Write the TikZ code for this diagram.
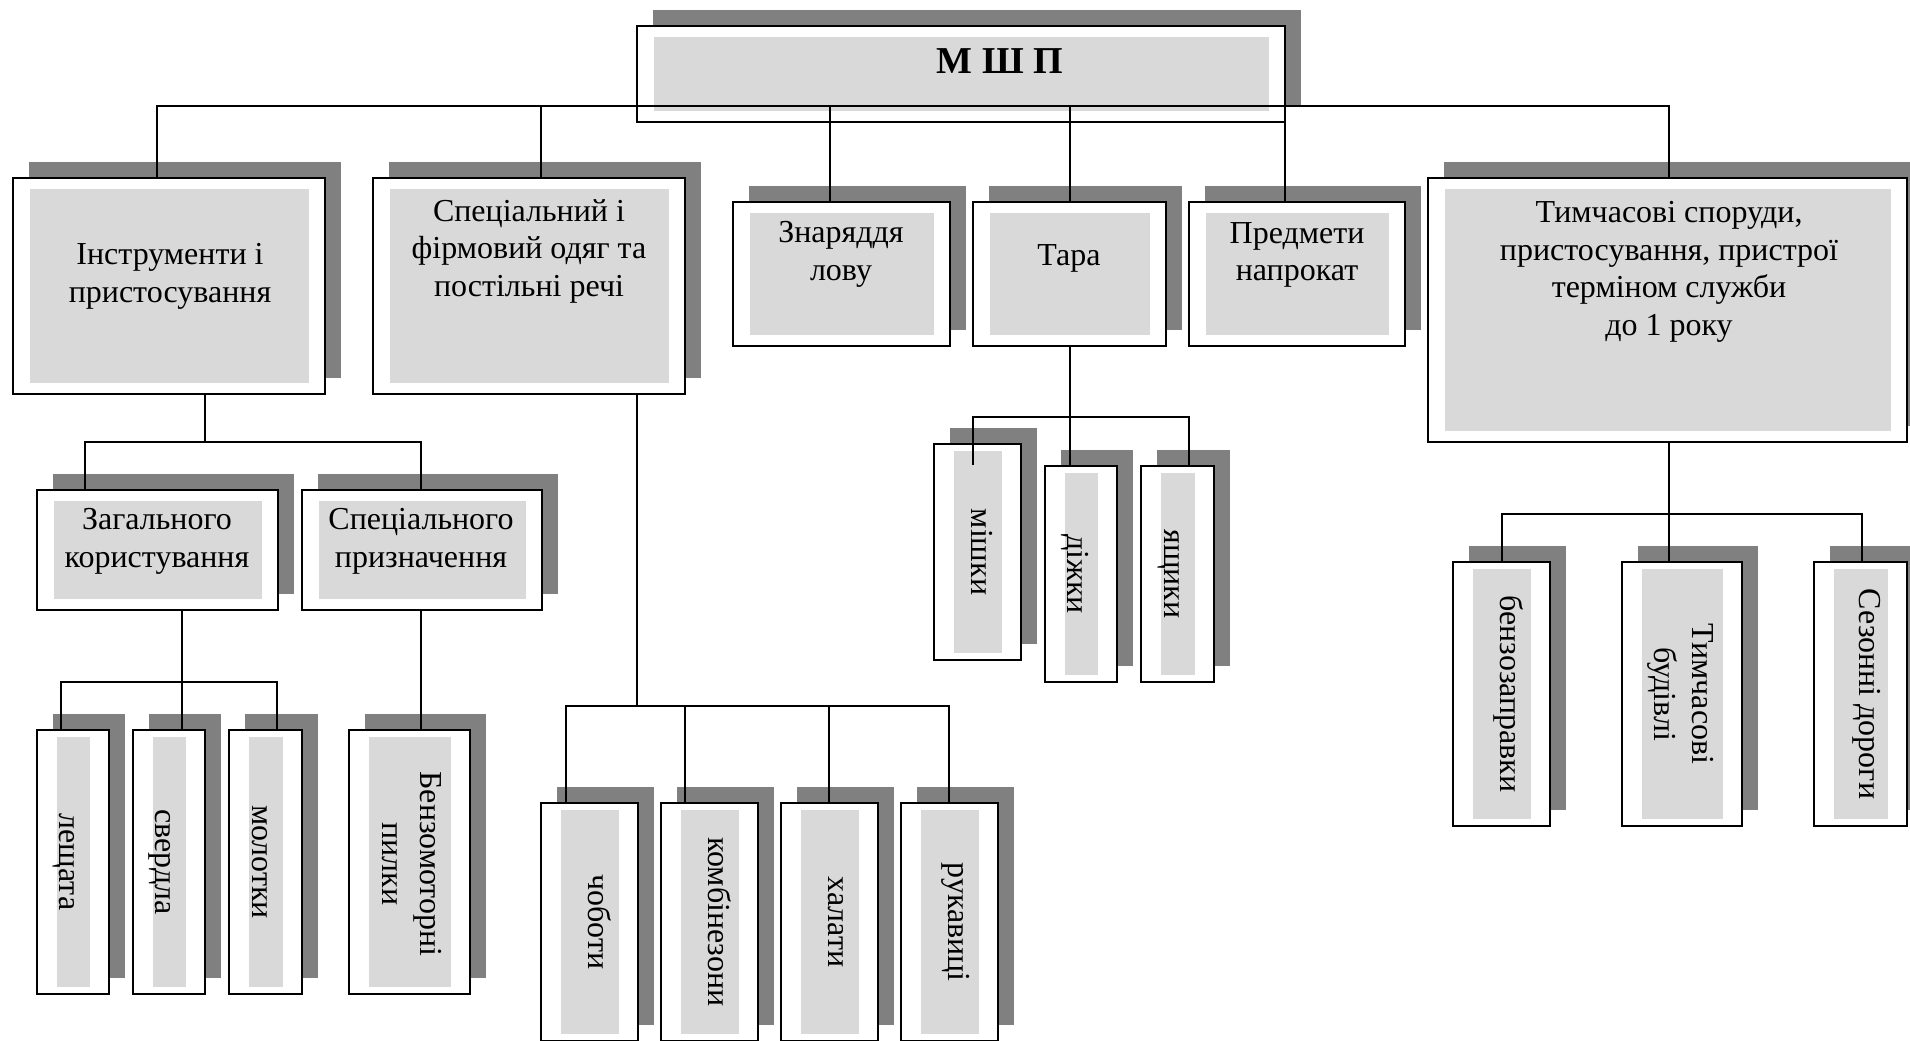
\documentclass[tikz,border=0pt]{standalone}
\usepackage{fontspec}
\setmainfont{Liberation Serif}
\usetikzlibrary{fit}
\definecolor{shdc}{HTML}{808080}
\definecolor{inrc}{HTML}{D9D9D9}
\tikzset{
  shd/.style={fill=shdc},
  inr/.style={fill=inrc},
  frm/.style={draw=black, fill=white, line width=1pt, inner sep=0pt, outer sep=0pt, rectangle},
  conn/.style={draw=black, line width=0.8pt, line join=miter},
  lbl/.style={font=\fontsize{16}{18.75}\selectfont, align=center, inner sep=0pt},
  vlbl/.style={lbl, rotate=-90},
}
% horizontal box: name, x1, y1, x2, y2 (pixel coords, y downwards)
\newcommand\hbx[5]{%
  \fill[shd] ({#2+16},{#3-16}) rectangle ({#4+16},{#5-16});
  \node[frm, fit={(#2,#3) (#4,#5)}] (#1) {};
  \fill[inr] ({#2+17},{#3+11}) rectangle ({#4-16},{#5-11});
}
% vertical (rotated text) box
\newcommand\vbx[5]{%
  \fill[shd] ({#2+16},{#3-16}) rectangle ({#4+16},{#5-16});
  \node[frm, fit={(#2,#3) (#4,#5)}] (#1) {};
  \fill[inr] ({#2+20},{#3+7}) rectangle ({#4-19},{#5-7});
}
\begin{document}
\begin{tikzpicture}[x=0.5pt, y=-0.5pt]
\useasboundingbox (0,0) rectangle (1910,1040);
\fill[white] (0,0) rectangle (1910,1040);
\clip (0,0) rectangle (1910,1040);

% ---- boxes ----
\hbx{root}{637}{26}{1285}{122}
\hbx{instr}{13}{178}{325}{394}
\hbx{spec}{373}{178}{685}{394}
\hbx{znar}{733}{202}{950}{346}
\hbx{tara}{973}{202}{1166}{346}
\hbx{pred}{1189}{202}{1405}{346}
\hbx{tymch}{1428}{178}{1907}{442}
\hbx{zag}{37}{490}{278}{610}
\hbx{spc}{302}{490}{542}{610}

\vbx{lesh}{37}{730}{109}{994}
\vbx{sverd}{133}{730}{205}{994}
\vbx{molot}{229}{730}{302}{994}
\vbx{benz}{349}{730}{470}{994}
\vbx{chob}{541}{803}{638}{1041}
\vbx{komb}{661}{803}{758}{1041}
\vbx{khal}{781}{803}{878}{1041}
\vbx{ruk}{901}{803}{998}{1041}
\vbx{mish}{934}{444}{1021}{660}
\vbx{dizh}{1045}{466}{1117}{682}
\vbx{yasch}{1141}{466}{1214}{682}
\vbx{benzz}{1453}{562}{1550}{826}
\vbx{tbud}{1622}{562}{1742}{826}
\vbx{sez}{1814}{562}{1907}{826}

% ---- texts ----
\node[lbl, font=\fontsize{19}{22}\selectfont\bfseries] (root-t) at (1000,61) {М Ш П};
\node[lbl, anchor=north] (instr-t) at (170,243) {Інструменти і\\пристосування};
\node[lbl, anchor=north] (spec-t) at (529,199) {Спеціальний і\\фірмовий одяг та\\постільні речі};
\node[lbl, anchor=north] (znar-t) at (841,221) {Знаряддя\\лову};
\node[lbl, anchor=north] (tara-t) at (1069,244) {Тара};
\node[lbl, anchor=north] (pred-t) at (1297,222) {Предмети\\напрокат};
\node[lbl, anchor=north] (tymch-t) at (1669,201) {Тимчасові споруди,\\пристосування, пристрої\\терміном служби\\до 1 року};
\node[lbl, anchor=north] (zag-t) at (157,508) {Загального\\користування};
\node[lbl, anchor=north] (spc-t) at (421,508) {Спеціального\\призначення};

\node[vlbl, anchor=base] (lesh-t) at (59,862) {лещата};
\node[vlbl, anchor=base] (sverd-t) at (155,862) {свердла};
\node[vlbl, anchor=base] (molot-t) at (252,862) {молотки};
\node[vlbl, anchor=north] (benz-t) at (442,864) {Бензомоторні\\пилки};
\node[vlbl, anchor=base] (chob-t) at (588,922) {чоботи};
\node[vlbl, anchor=base] (komb-t) at (708,922) {комбінезони};
\node[vlbl, anchor=base] (khal-t) at (828,922) {халати};
\node[vlbl, anchor=base] (ruk-t) at (948,922) {рукавиці};
\node[vlbl, anchor=base] (mish-t) at (971,552) {мішки};
\node[vlbl, anchor=base] (dizh-t) at (1067,574) {діжки};
\node[vlbl, anchor=base] (yasch-t) at (1164,574) {ящики};
\node[vlbl, anchor=base] (benzz-t) at (1500,694) {бензозаправки};
\node[vlbl, anchor=north] (tbud-t) at (1714,694) {Тимчасові\\будівлі};
\node[vlbl, anchor=base] (sez-t) at (1859,694) {Сезонні дороги};

% ---- connectors ----
% main bus
\coordinate (bL) at (157,106);
\coordinate (bR) at (1669,106);
\coordinate (b2) at (541,106);
\coordinate (b3) at (830,106);
\coordinate (b4) at (1070,106);
\coordinate (b5) at (1285,106);
\draw[conn] (bL |- instr.north) -- (bL) -- (bR) -- (bR |- tymch.north);
\draw[conn] (b2) -- (b2 |- spec.north);
\draw[conn] (b3) -- (b3 |- znar.north);
\draw[conn] (b4) -- (b4 |- tara.north);
\draw[conn] (b5) -- (b5 |- pred.north);

% instruments
\coordinate (i0) at (205,442);
\coordinate (iL) at (85,442);
\coordinate (iR) at (421,442);
\draw[conn] (i0 |- instr.south) -- (i0);
\draw[conn] (iL |- zag.north) -- (iL) -- (iR) -- (iR |- spc.north);

% general use
\coordinate (g0) at (182,682);
\coordinate (gL) at (61,682);
\coordinate (gR) at (277,682);
\draw[conn] (g0 |- zag.south) -- (g0) -- (g0 |- sverd.north);
\draw[conn] (gL |- lesh.north) -- (gL) -- (gR) -- (gR |- molot.north);

% special purpose
\coordinate (s0) at (421,610);
\draw[conn] (s0 |- spc.south) -- (s0 |- benz.north);

% clothing
\coordinate (c0) at (637,706);
\coordinate (cL) at (566,706);
\coordinate (c2) at (685,706);
\coordinate (c3) at (829,706);
\coordinate (cR) at (949,706);
\draw[conn] (c0 |- spec.south) -- (c0);
\draw[conn] (cL |- chob.north) -- (cL) -- (cR) -- (cR |- ruk.north);
\draw[conn] (c2) -- (c2 |- komb.north);
\draw[conn] (c3) -- (c3 |- khal.north);

% containers
\coordinate (t0) at (1070,417);
\coordinate (tL) at (973,417);
\coordinate (tR) at (1189,417);
\coordinate (mishend) at (973,465);
\draw[conn] (t0 |- tara.south) -- (t0) -- (t0 |- dizh.north);
\draw[conn] (mishend) -- (tL) -- (tR) -- (tR |- yasch.north);

% temporary structures
\coordinate (m0) at (1669,514);
\coordinate (mL) at (1502,514);
\coordinate (mR) at (1862,514);
\draw[conn] (m0 |- tymch.south) -- (m0) -- (m0 |- tbud.north);
\draw[conn] (mL |- benzz.north) -- (mL) -- (mR) -- (mR |- sez.north);
\end{tikzpicture}
\end{document}
